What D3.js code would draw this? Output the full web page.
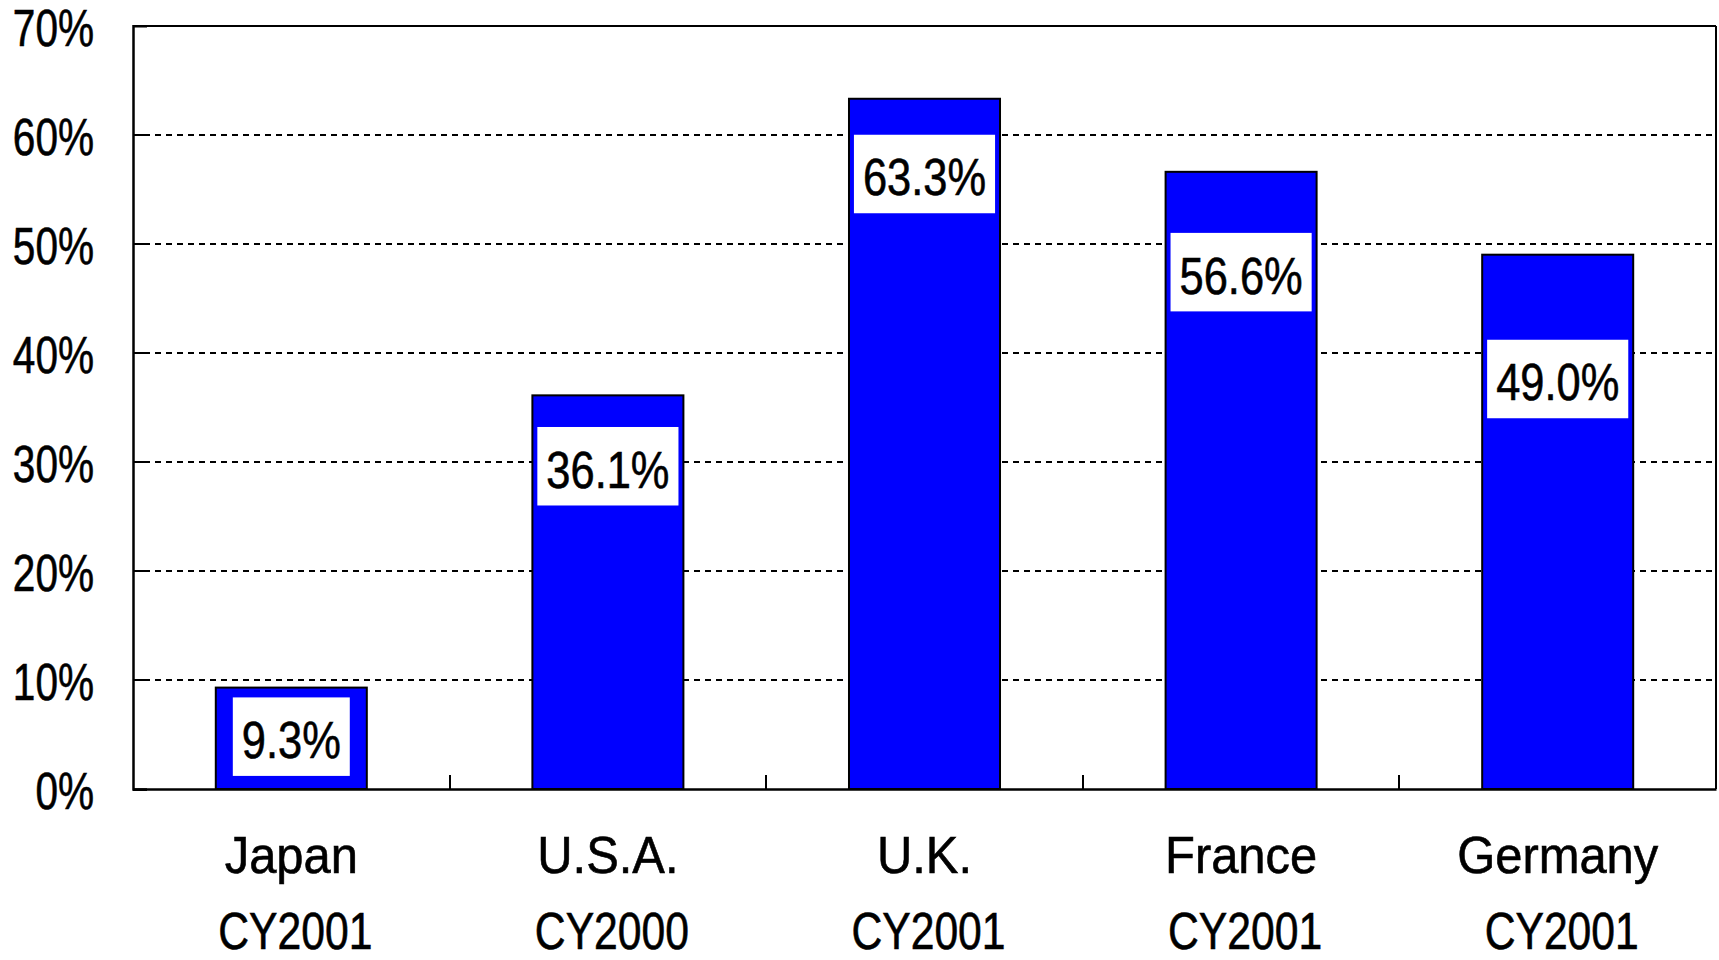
<!DOCTYPE html>
<html>
<head>
<meta charset="utf-8">
<script src="https://cdn.jsdelivr.net/npm/d3@7"></script>
<style>
  html, body { margin: 0; padding: 0; background: #fff; }
  svg { display: block; }
  text { font-family: "Liberation Sans", Arial, sans-serif; fill: #000; stroke: #000; stroke-width: 0.6px; }
  line { shape-rendering: crispEdges; }
</style>
</head>
<body>
<svg id="chart" width="1719" height="960"></svg>
<script>
// ---- data ----
const categories = ["Japan", "U.S.A.", "U.K.", "France", "Germany"];
const years = ["CY2001", "CY2000", "CY2001", "CY2001", "CY2001"];
const values = [9.3, 36.1, 63.3, 56.6, 49.0];
const valueLabels = ["9.3%", "36.1%", "63.3%", "56.6%", "49.0%"];
// where each value label box is centred, in % units
const labelAt = [4.8, 29.6, 56.4, 47.4, 37.6];
const yTicks = [0, 10, 20, 30, 40, 50, 60, 70];
const yTickLabels = ["0%", "10%", "20%", "30%", "40%", "50%", "60%", "70%"];

// ---- layout ----
const svg = d3.select("#chart");
const L = 133, R = 1716, T = 25.7, B = 789;
const FS = 52;

const x = d3.scaleBand().domain(categories).range([L, R])
  .paddingInner(0.523).paddingOuter(0.2615);
const y = d3.scaleLinear().domain([0, 70]).range([B, T]);

function squeeze(sel, f) {
  sel.each(function () {
    const w = this.getComputedTextLength();
    d3.select(this).attr("textLength", w * f).attr("lengthAdjust", "spacingAndGlyphs");
  });
}

// gridlines
svg.append("g").selectAll("line")
  .data(yTicks.filter(d => d > 0 && d < 70))
  .join("line")
  .attr("x1", L).attr("x2", R)
  .attr("y1", d => Math.round(y(d))).attr("y2", d => Math.round(y(d)))
  .attr("stroke", "#000").attr("stroke-width", 2)
  .attr("stroke-dasharray", "6,5");

// bars
svg.append("g").selectAll("rect")
  .data(values)
  .join("rect")
  .attr("x", (d, i) => x(categories[i]))
  .attr("width", x.bandwidth())
  .attr("y", d => y(d))
  .attr("height", d => y(0) - y(d))
  .attr("fill", "#0000FF")
  .attr("stroke", "#000").attr("stroke-width", 2);

// value labels
const lg = svg.append("g");
valueLabels.forEach((lab, i) => {
  const cx = x(categories[i]) + x.bandwidth() / 2;
  const cy = y(labelAt[i]);
  const g = lg.append("g");
  const box = g.append("rect").attr("fill", "#fff");
  const t = g.append("text")
    .attr("x", cx).attr("y", cy + 21.4)
    .attr("text-anchor", "middle")
    .attr("font-size", FS)
    .text(lab);
  squeeze(t, 0.835);
  const w = +t.attr("textLength");
  box.attr("x", cx - w / 2 - 9).attr("width", w + 18)
     .attr("y", cy - 39.25).attr("height", 78.5);
});

// frame
svg.append("line").attr("x1", L).attr("x2", R).attr("y1", Math.round(y(70))).attr("y2", Math.round(y(70)))
  .attr("stroke", "#000").attr("stroke-width", 2);
svg.append("line").attr("x1", R).attr("x2", R).attr("y1", y(70)).attr("y2", y(0))
  .attr("stroke", "#000").attr("stroke-width", 2);

// y axis
const yAxis = svg.append("g").attr("transform", `translate(${L},0)`)
  .call(d3.axisLeft(y).tickValues(yTicks).tickSize(-14).tickPadding(39)
        .tickFormat((d, i) => yTickLabels[i]));
yAxis.select(".domain").attr("stroke", "#000").attr("stroke-width", 2.5);
yAxis.selectAll(".tick line").attr("stroke", "#000").attr("stroke-width", 2);
yAxis.selectAll(".tick text")
  .attr("font-family", null).attr("font-size", FS).attr("dy", "0.375em").attr("fill", "#000");
squeeze(yAxis.selectAll(".tick text"), 0.78);

// x axis
const xAxis = svg.append("g").attr("transform", `translate(0,${B})`)
  .call(d3.axisBottom(x).tickSize(0).tickFormat(""));
xAxis.select(".domain").attr("stroke", "#000").attr("stroke-width", 2.5);
xAxis.selectAll(".tick").remove();
svg.append("g").selectAll("line")
  .data(categories.slice(0, -1))
  .join("line")
  .attr("x1", d => x(d) + x.bandwidth() / 2 + x.step() / 2)
  .attr("x2", d => x(d) + x.bandwidth() / 2 + x.step() / 2)
  .attr("y1", B - 14).attr("y2", B)
  .attr("stroke", "#000").attr("stroke-width", 2);

// category labels
const cn = svg.append("g").selectAll("text")
  .data(categories)
  .join("text")
  .attr("x", d => x(d) + x.bandwidth() / 2)
  .attr("y", 873)
  .attr("text-anchor", "middle")
  .attr("font-size", FS)
  .text(d => d);
squeeze(cn, 0.94);

const yr = svg.append("g").selectAll("text")
  .data(years)
  .join("text")
  .attr("x", (d, i) => x(categories[i]) + x.bandwidth() / 2 + 4)
  .attr("y", 949)
  .attr("text-anchor", "middle")
  .attr("font-size", FS)
  .text(d => d);
squeeze(yr, 0.82);
</script>
</body>
</html>
